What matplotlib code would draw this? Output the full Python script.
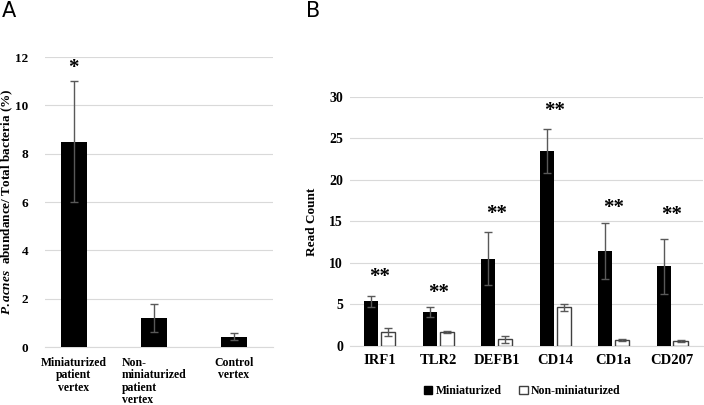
import matplotlib.pyplot as plt
import numpy as np
from matplotlib.patches import Patch

plt.rcParams['font.family'] = 'Liberation Serif'
plt.rcParams['font.weight'] = 'bold'
plt.rcParams['mathtext.fontset'] = 'custom'
plt.rcParams['mathtext.it'] = 'Liberation Serif:italic:bold'
plt.rcParams['mathtext.rm'] = 'Liberation Serif:bold'

# panel A
groups_a = ["Miniaturized\npatient\nvertex", "Non-\nminiaturized\npatient\nvertex", "Control\nvertex"]
abund = [8.5, 1.2, 0.43]
abund_err = [2.5, 0.56, 0.16]
star_a = ["*", "", ""]
star_a_y = [11.55, 0, 0]

# panel B
genes = ["IRF1", "TLR2", "DEFB1", "CD14", "CD1a", "CD207"]
mini = [5.4, 4.1, 10.5, 23.5, 11.45, 9.6]
mini_err = [0.65, 0.63, 3.2, 2.7, 3.35, 3.3]
nonmini = [1.7, 1.7, 0.8, 4.65, 0.75, 0.62]
nonmini_err = [0.5, 0.13, 0.4, 0.4, 0.1, 0.1]
stars_b = ["**"] * 6
stars_b_y = [8.3, 6.4, 15.9, 28.3, 16.6, 15.8]

grid_c = '#d9d9d9'
err_c = '#595959'

fig = plt.figure(figsize=(7.04, 4.05), dpi=100)

# ---- A
ax1 = fig.add_axes([0.064, 0.1432, 0.324, 0.716])
xa = np.arange(len(groups_a))
ax1.bar(xa, abund, width=0.33, color='black', zorder=3)
ax1.errorbar(xa, abund, yerr=abund_err, fmt='none', ecolor=err_c, elinewidth=1, capsize=3, capthick=1, zorder=4)
for i in range(len(xa)):
    if star_a[i]:
        ax1.text(xa[i], star_a_y[i], star_a[i], ha='center', va='center', fontsize=15, fontweight='bold')
ax1.set_xlim(-0.36, 2.49)
ax1.set_ylim(0, 12)
ax1.set_yticks(range(0, 13, 2))
ax1.yaxis.grid(True, color=grid_c, lw=0.8, zorder=0)
ax1.set_xticks(xa)
ax1.set_xticklabels(groups_a, fontsize=8.5, multialignment='left', linespacing=1.05)
labs = ax1.get_xticklabels()
labs[0].set_multialignment('center')
labs[2].set_multialignment('center')
ax1.tick_params(axis='x', length=0, pad=7)
ax1.tick_params(axis='y', length=0, labelsize=9.5, pad=12)
for s in ['top', 'right', 'left']:
    ax1.spines[s].set_visible(False)
ax1.spines['bottom'].set_color(grid_c)
ax1.set_ylabel(r"$P.acnes$  abundance/ Total bacteria (%)", fontsize=9.5, fontweight='bold')
ax1.yaxis.set_label_coords(-0.13, 0.5)

# ---- B
ax2 = fig.add_axes([0.497, 0.1457, 0.5016, 0.6148])
xb = np.arange(len(genes))
w = 0.24
ax2.bar(xb - 0.145, mini, width=w, color='black', zorder=3)
ax2.bar(xb + 0.145, nonmini, width=w, color='white', edgecolor='#404040', linewidth=1, zorder=3)
ax2.errorbar(xb - 0.145, mini, yerr=mini_err, fmt='none', ecolor=err_c, elinewidth=1, capsize=3, capthick=1, zorder=4)
ax2.errorbar(xb + 0.145, nonmini, yerr=nonmini_err, fmt='none', ecolor=err_c, elinewidth=1, capsize=3, capthick=1, zorder=4)
for i in range(len(xb)):
    ax2.text(xb[i], stars_b_y[i], stars_b[i], ha='center', va='center', fontsize=15, fontweight='bold', clip_on=False)
ax2.set_xlim(-0.51, 5.53)
ax2.set_ylim(0, 30)
ax2.set_yticks(range(0, 31, 5))
ax2.yaxis.grid(True, color=grid_c, lw=0.8, zorder=0)
ax2.set_xticks(xb)
ax2.set_xticklabels(genes, fontsize=10.5)
ax2.tick_params(axis='x', length=0, pad=6)
ax2.tick_params(axis='y', length=0, labelsize=10, pad=5)
for s in ['top', 'right', 'left']:
    ax2.spines[s].set_visible(False)
ax2.spines['bottom'].set_color(grid_c)
ax2.set_ylabel("Read Count", fontsize=9.5, fontweight='bold', labelpad=8)

handles = [Patch(facecolor='black', edgecolor='black'), Patch(facecolor='white', edgecolor='#404040')]
fig.legend(handles, ["Miniaturized", "Non-miniaturized"], loc='center', bbox_to_anchor=(0.742, 0.035),
           ncol=2, frameon=False, fontsize=8.5, handlelength=0.7, handleheight=0.7, handletextpad=0.3,
           columnspacing=1.5)

fig.text(0.003, 0.997, "A", fontsize=15, fontweight='normal', family='DejaVu Sans', va='top', ha='left')
fig.text(0.434, 0.997, "B", fontsize=15, fontweight='normal', family='DejaVu Sans', va='top', ha='left')

fig.savefig('out.png', dpi=100)
